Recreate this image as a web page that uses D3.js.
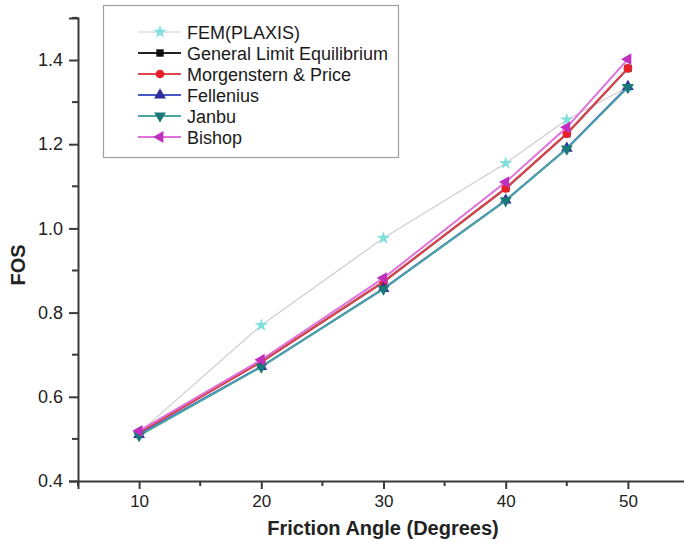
<!DOCTYPE html>
<html>
<head>
<meta charset="utf-8">
<script src="https://cdn.jsdelivr.net/npm/d3@7"></script>
<style>
  html, body { margin: 0; padding: 0; background: #fff; }
  svg { display: block; font-family: "Liberation Sans", Arial, sans-serif; }
</style>
</head>
<body>
<svg id="chart" width="684" height="548"></svg>
<script>
// Friction angle (degrees) at which the factor of safety was evaluated
const frictionAngle = [10, 20, 30, 40, 45, 50];

// Factor of safety by method
const femPlaxis   = [0.515, 0.770, 0.977, 1.155, 1.258, 1.336];
const gle         = [0.515, 0.683, 0.873, 1.095, 1.225, 1.380];
const morgenstern = [0.515, 0.683, 0.873, 1.095, 1.225, 1.380];
const fellenius   = [0.510, 0.672, 0.857, 1.067, 1.190, 1.337];
const janbu       = [0.508, 0.671, 0.856, 1.066, 1.189, 1.335];
const bishop      = [0.519, 0.688, 0.882, 1.110, 1.240, 1.402];

const seriesNames = ["FEM(PLAXIS)", "General Limit Equilibrium", "Morgenstern & Price",
                     "Fellenius", "Janbu", "Bishop"];

const xTicks = [10, 20, 30, 40, 50];
const xMinorTicks = [5, 15, 25, 35, 45, 55];
const yTicks = [0.4, 0.6, 0.8, 1.0, 1.2, 1.4];
const yMinorTicks = [0.5, 0.7, 0.9, 1.1, 1.3, 1.5];

const seriesStyle = [
  { line: "#cfcfcf", marker: "#7fe0dc", width: 1.2, symbol: d3.symbolStar,     rot: 0,   size: 55 },
  { line: "#222222", marker: "#111111", width: 2,   symbol: d3.symbolSquare,   rot: 0,   size: 55 },
  { line: "#e0444c", marker: "#e8202a", width: 2,   symbol: d3.symbolCircle,   rot: 0,   size: 60 },
  { line: "#4a58c8", marker: "#2e2e9e", width: 2,   symbol: d3.symbolTriangle, rot: 0,   size: 60 },
  { line: "#4aa4a4", marker: "#1a7878", width: 2,   symbol: d3.symbolTriangle, rot: 180, size: 60 },
  { line: "#e070dc", marker: "#c030c0", width: 2,   symbol: d3.symbolTriangle, rot: 270, size: 60 }
];

const seriesValues = [femPlaxis, gle, morgenstern, fellenius, janbu, bishop];

const svg = d3.select("#chart");

const x = d3.scaleLinear().domain([5, 55]).range([78, 689]);
const y = d3.scaleLinear().domain([0.4, 1.5]).range([481, 17.9]);

const axisColor = "#3a3a3a";

// X axis with major and minor ticks
const gx = svg.append("g").attr("transform", `translate(0,${y(0.4)})`);
gx.call(d3.axisBottom(x).tickValues(xTicks).tickFormat(d3.format("d")).tickSize(8).tickPadding(6))
  .call(g => g.select(".domain").attr("stroke", axisColor).attr("stroke-width", 2))
  .call(g => g.selectAll(".tick line").attr("stroke", axisColor).attr("stroke-width", 2))
  .call(g => g.selectAll(".tick text").attr("fill", "#222").attr("font-size", 17)
                .attr("font-family", "Liberation Sans, Arial, sans-serif"));
gx.selectAll(".minor").data(xMinorTicks).join("line")
  .attr("class", "minor")
  .attr("x1", d => x(d)).attr("x2", d => x(d))
  .attr("y1", 0).attr("y2", 5)
  .attr("stroke", axisColor).attr("stroke-width", 2);

// Y axis with major and minor ticks
const gy = svg.append("g").attr("transform", `translate(${x(5)},0)`);
gy.call(d3.axisLeft(y).tickValues(yTicks).tickFormat(d3.format(".1f")).tickSize(9).tickPadding(6))
  .call(g => g.select(".domain").attr("stroke", axisColor).attr("stroke-width", 2))
  .call(g => g.selectAll(".tick line").attr("stroke", axisColor).attr("stroke-width", 2))
  .call(g => g.selectAll(".tick text").attr("fill", "#222").attr("font-size", 18)
                .attr("font-family", "Liberation Sans, Arial, sans-serif"));
gy.selectAll(".minor").data(yMinorTicks).join("line")
  .attr("class", "minor")
  .attr("x1", 0).attr("x2", -6)
  .attr("y1", d => y(d)).attr("y2", d => y(d))
  .attr("stroke", axisColor).attr("stroke-width", 2);

// Axis titles
svg.append("text")
  .attr("x", 383).attr("y", 535)
  .attr("text-anchor", "middle")
  .attr("font-weight", "bold").attr("font-size", 20).attr("fill", "#222")
  .text("Friction Angle (Degrees)");

svg.append("text")
  .attr("transform", "translate(25,265) rotate(-90)")
  .attr("text-anchor", "middle")
  .attr("font-weight", "bold").attr("font-size", 20).attr("fill", "#222")
  .text("FOS");

// Series lines and markers
const line = d3.line().x(d => x(d[0])).y(d => y(d[1]));
const plot = svg.append("g");

seriesValues.forEach((vals, i) => {
  const st = seriesStyle[i];
  const pts = frictionAngle.map((a, j) => [a, vals[j]]);
  plot.append("path")
    .datum(pts)
    .attr("fill", "none")
    .attr("stroke", st.line)
    .attr("stroke-width", st.width)
    .attr("d", line);
  plot.selectAll(null).data(pts).join("path")
    .attr("transform", d => `translate(${x(d[0])},${y(d[1])}) rotate(${st.rot})`)
    .attr("d", d3.symbol(st.symbol, st.size)())
    .attr("fill", st.marker);
});

// Legend
const legend = svg.append("g");
legend.append("rect")
  .attr("x", 103.5).attr("y", 5.5).attr("width", 295).attr("height", 152)
  .attr("fill", "#fff").attr("stroke", "#a0a0a0").attr("stroke-width", 1.2);

const rowY = d3.scalePoint().domain(d3.range(seriesNames.length)).range([32, 137]);

seriesNames.forEach((name, i) => {
  const st = seriesStyle[i];
  const cy = rowY(i);
  legend.append("line")
    .attr("x1", 138).attr("x2", 181).attr("y1", cy).attr("y2", cy)
    .attr("stroke", st.line).attr("stroke-width", st.width);
  legend.append("path")
    .attr("transform", `translate(160,${cy}) rotate(${st.rot})`)
    .attr("d", d3.symbol(st.symbol, st.size)())
    .attr("fill", st.marker);
  legend.append("text")
    .attr("x", 187).attr("y", cy + 6.5)
    .attr("font-size", 18).attr("fill", "#1a1a1a")
    .text(name);
});
</script>
</body>
</html>
